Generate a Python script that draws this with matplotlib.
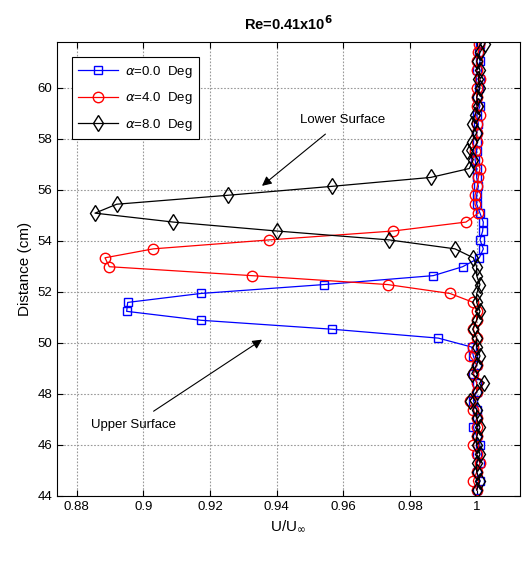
import matplotlib
matplotlib.use("Agg")
import matplotlib.pyplot as plt

plt.rcParams['font.family'] = ['Liberation Sans', 'DejaVu Sans']

distance = [44.24, 44.59, 44.94, 45.29, 45.64, 45.99, 46.34, 46.69, 47.04, 47.39,
            47.74, 48.09, 48.44, 48.79, 49.14, 49.49, 49.84, 50.19, 50.54, 50.89,
            51.24, 51.59, 51.94, 52.29, 52.64, 52.99, 53.34, 53.69, 54.04, 54.39,
            54.74, 55.09, 55.44, 55.79, 56.14, 56.49, 56.84, 57.19, 57.54, 57.89,
            58.24, 58.59, 58.94, 59.29, 59.64, 59.99, 60.34, 60.69, 61.04, 61.39,
            61.74]

u_a0 = [1.000, 1.001, 1.000, 1.001, 1.000, 1.001, 1.000, 0.999, 1.000, 1.000,
        0.999, 1.000, 1.000, 0.999, 1.000, 0.999, 0.9985, 0.9885, 0.9565, 0.9173,
        0.8950, 0.8953, 0.9172, 0.9542, 0.9870, 0.9958, 1.0008, 1.0020, 1.0010, 1.0018,
        1.0020, 1.0010, 1.0000, 1.0000, 1.0005, 1.0000, 1.0000, 0.9995, 1.0000, 1.0000,
        1.0000, 1.0005, 1.0000, 1.0010, 1.0000, 1.0008, 1.0010, 1.0000, 1.0010, 1.0008,
        1.0010]

u_a4 = [1.000, 0.999, 1.000, 1.001, 1.000, 0.999, 1.000, 1.000, 1.000, 0.999,
        0.998, 1.000, 1.000, 0.999, 1.000, 0.998, 0.999, 1.000, 0.999, 1.000,
        1.000, 0.9990, 0.9920, 0.9733, 0.9325, 0.8898, 0.8885, 0.9030, 0.9377, 0.9750,
        0.9968, 1.0005, 0.9995, 0.9995, 1.0002, 1.0005, 1.0010, 1.0000, 0.9995, 1.0000,
        1.0000, 1.0000, 1.0010, 1.0000, 1.0000, 1.0000, 1.0010, 1.0000, 1.0000, 1.0005,
        1.0008]

u_a8 = [1.000, 1.001, 1.000, 1.000, 1.001, 1.000, 1.000, 1.001, 1.000, 1.000,
        0.998, 1.000, 1.0023, 0.9985, 1.000, 1.001, 1.000, 1.000, 0.9988, 1.000,
        1.001, 1.000, 1.000, 1.001, 1.000, 1.000, 0.9990, 0.9935, 0.9738, 0.9400,
        0.9090, 0.8855, 0.8920, 0.9253, 0.9565, 0.9862, 0.9978, 0.9990, 0.9970, 0.9985,
        1.0000, 0.9985, 0.9995, 1.0005, 1.0000, 1.0010, 1.0005, 1.0010, 1.0000, 1.0010,
        1.0025]

labels = [r'$\alpha$=0.0  Deg', r'$\alpha$=4.0  Deg', r'$\alpha$=8.0  Deg']
xticks = [0.88, 0.90, 0.92, 0.94, 0.96, 0.98, 1.00]
xticklabels = ['0.88', '0.9', '0.92', '0.94', '0.96', '0.98', '1']
yticks = [44, 46, 48, 50, 52, 54, 56, 58, 60]

fig = plt.figure(figsize=(5.23, 5.66), dpi=100)
ax = fig.add_axes([57/523, 1-496/566, (520-57)/523, (496-42)/566])

ax.plot(u_a0, distance, color='#0000ff', marker='s', markersize=5.5, mfc='none',
        mew=1.0, lw=0.9, label=labels[0])
ax.plot(u_a4, distance, color='#ff0000', marker='o', markersize=7.5, mfc='none',
        mew=1.0, lw=0.9, label=labels[1])
ax.plot(u_a8, distance, color='black', marker='d', markersize=8.5, mfc='none',
        mew=1.0, lw=0.9, label=labels[2])

ax.set_xlim(0.8741, 1.013)
ax.set_ylim(44, 61.8)
ax.set_xticks(xticks)
ax.set_xticklabels(xticklabels)
ax.set_yticks(yticks)
ax.tick_params(direction='in', top=True, right=True, labelsize=9.5, length=4)
ax.grid(True, linestyle=(0, (1.5, 1.5)), color='#999999', lw=0.8)

ax.set_title(r'Re=0.41x10$^{\mathbf{6}}$', fontsize=10.5, fontweight='bold', pad=9)
ax.set_ylabel('Distance (cm)', fontsize=11)
ax.set_xlabel(r'U/U$_{\infty}$', fontsize=11)

ax.annotate('Lower Surface', xy=(0.9356, 56.16), xytext=(0.947, 58.74),
            fontsize=9.5, ha='left', va='center',
            arrowprops=dict(arrowstyle='-|>', color='black', lw=0.8,
                            mutation_scale=14, shrinkA=6, shrinkB=0))
ax.annotate('Upper Surface', xy=(0.9356, 50.13), xytext=(0.897, 46.8),
            fontsize=9.5, ha='center', va='center',
            arrowprops=dict(arrowstyle='-|>', color='black', lw=0.8,
                            mutation_scale=14, shrinkA=6, shrinkB=0))

leg = ax.legend(loc='upper left', bbox_to_anchor=(0.032, 0.967), borderaxespad=0,
                fontsize=9.5, fancybox=False, edgecolor='black', framealpha=1,
                handlelength=3.0, handletextpad=0.5, borderpad=0.5,
                labelspacing=0.8)
leg.get_frame().set_linewidth(0.8)

fig.savefig('out.png', dpi=100)
